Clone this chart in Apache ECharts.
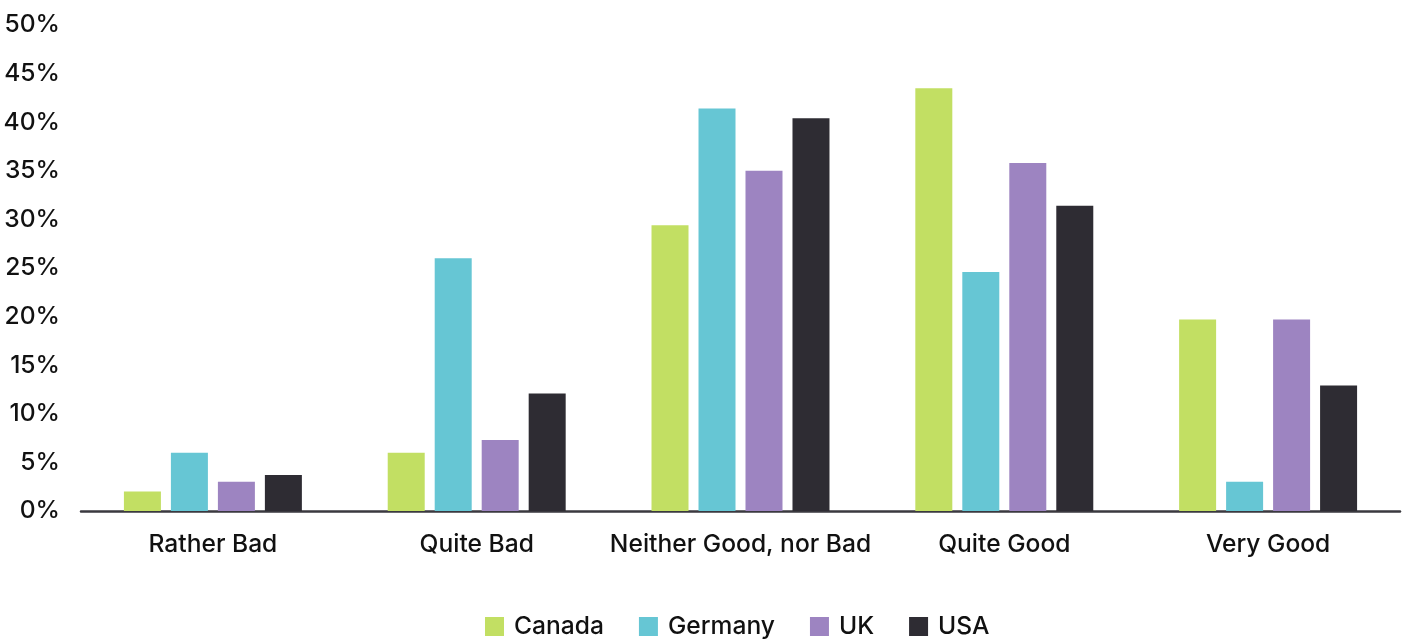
<!DOCTYPE html>
<html>
<head>
<meta charset="utf-8">
<script src="https://cdn.jsdelivr.net/npm/echarts@6/dist/echarts.min.js"></script>
<style>
html,body{margin:0;padding:0;background:#fff;}
#chart{width:1409px;height:640px;}
</style>
</head>
<body>
<div id="chart"></div>
<script>
const categories = ["Rather Bad", "Quite Bad", "Neither Good, nor Bad", "Quite Good", "Very Good"];
const canada  = [2.0, 6.0, 29.4, 43.5, 19.7];
const germany = [6.0, 26.0, 41.4, 24.6, 3.0];
const uk      = [3.0, 7.3, 35.0, 35.8, 19.7];
const usa     = [3.7, 12.1, 40.4, 31.4, 12.9];
const seriesNames = ["Canada", "Germany", "UK", "USA"];
const colors = ["#c2df63", "#66c6d4", "#9d84c1", "#2e2c33"];
const yTicks = [0, 5, 10, 15, 20, 25, 30, 35, 40, 45, 50];

const FONT = "Inter";
const FS = 24.6;
const chart = echarts.init(document.getElementById('chart'));
const dataSets = [canada, germany, uk, usa];
chart.setOption({
  animation: false,
  color: colors,
  grid: { left: 81, right: 9, top: 25, bottom: 129 },
  legend: {
    bottom: -4,
    left: 480,
    itemWidth: 19,
    itemHeight: 19,
    itemGap: 35,
    icon: 'rect',
    textStyle: { fontFamily: FONT, fontSize: FS, fontWeight: 500, color: '#111', padding: [0, 0, 0, 5] },
    data: seriesNames
  },
  xAxis: {
    type: 'category',
    data: categories,
    axisLine: { show: true, lineStyle: { color: '#3a393f', width: 2.5 } },
    axisTick: { show: false },
    axisLabel: { interval: 0, fontFamily: FONT, fontSize: FS, fontWeight: 500, color: '#111', margin: 21 }
  },
  yAxis: {
    type: 'value',
    min: yTicks[0],
    max: yTicks[yTicks.length - 1],
    interval: 5,
    splitLine: { show: false },
    axisLine: { show: false },
    axisTick: { show: false },
    axisLabel: {
      fontFamily: FONT, fontSize: FS, fontWeight: 500, color: '#111', margin: 21,
      formatter: v => v + '%'
    }
  },
  series: seriesNames.map((n, i) => ({
    name: n,
    type: 'bar',
    data: dataSets[i],
    barWidth: 37,
    barGap: '27%',
    itemStyle: { color: colors[i] }
  }))
});
</script>
</body>
</html>
